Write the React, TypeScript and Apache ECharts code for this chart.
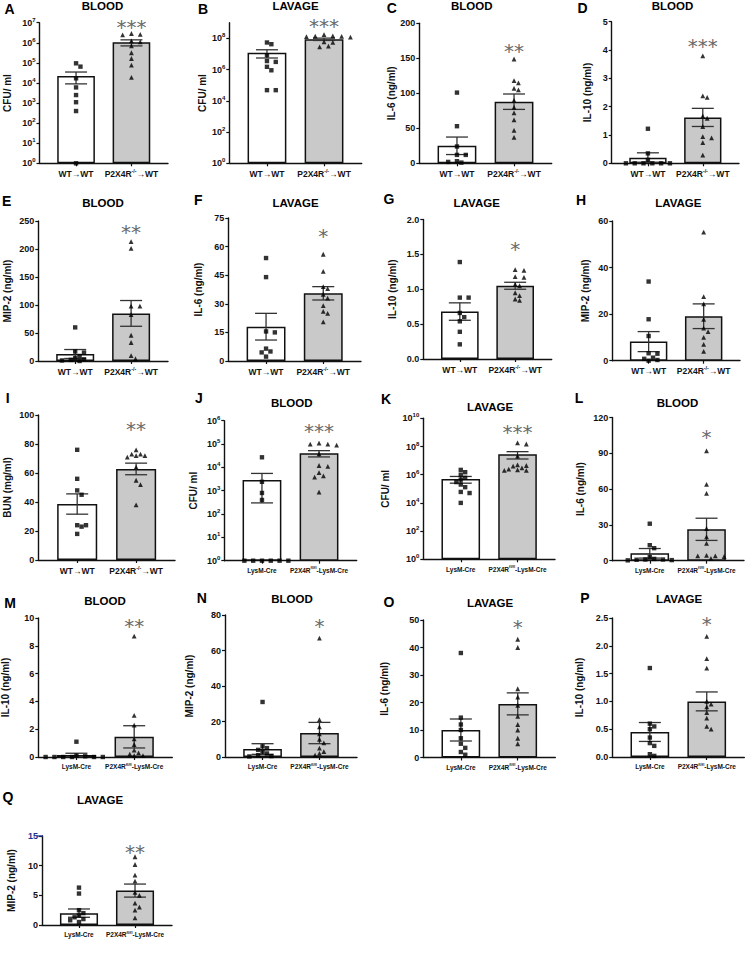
import React, { useEffect, useRef } from "react";
import * as echarts from "echarts";

const FONT = "Liberation Sans, Arial, Helvetica, sans-serif";

// ---------- categories ----------
const CAT_CHIMERA = ["WT→WT", "P2X4R-/-→WT"];
const CAT_LYSM = ["LysM-Cre", "P2X4Rfl/fl-LysM-Cre"];

// ---------- data ----------
// A  BLOOD CFU/ml (log)
const A_ctrl = [9.5e4, 6.5e4, 1.7e4, 6e3, 2.5e3, 1.1e3, 4e2, 1];
const A_ko = [2.9e6, 2.6e6, 2.5e6, 1.25e6, 1.1e6, 7e5, 3.2e5, 1.65e5, 7.8e4, 1.9e4];
const A_mean = [2.2e4, 1.05e6];
const A_sem = [1.3e4, 3.5e5];
// B  LAVAGE CFU/ml (log)
const B_ctrl = [5.4e7, 4.2e7, 8.3e6, 3.5e6, 3.1e6, 1.5e6, 9e5, 4.8e4, 4.8e4];
const B_ko = [1.7e8, 1.45e8, 1.4e8, 1.35e8, 1.3e8, 1.2e8, 6e7, 5.5e7, 3.2e7, 2.8e7];
const B_mean = [1.2e7, 8.8e7];
const B_sem = [6.5e6, 1.5e7];
// C  BLOOD IL-6
const C_ctrl = [101, 53, 24, 12, 12, 3, 1, 2];
const C_ko = [149, 118, 115, 107, 105, 90, 80, 72, 62, 47, 37];
const C_mean = [25, 88];
const C_sem = [12.5, 11];
// D  BLOOD IL-10
const D_ctrl = [1.22, 0.35, 0.12, 0, 0, 0, 0, 0, 0];
const D_ko = [3.79, 2.38, 2.33, 1.67, 1.59, 1.3, 0.94, 0.9, 0.73, 0.29];
const D_mean = [0.2, 1.62];
const D_sem = [0.17, 0.32];
// E  BLOOD MIP-2
const E_ctrl = [60, 17, 15, 9, 5, 3, 2, 1, 0];
const E_ko = [213, 201, 98, 98, 83, 46, 33, 9.5, 4];
const E_mean = [12.5, 85];
const E_sem = [8, 23];
// F  LAVAGE IL-6
const F_ctrl = [54, 44, 15.5, 15, 6.5, 5, 4.5, 2.3];
const F_ko = [56, 47, 39, 38, 35, 33, 29, 26, 25, 20.5];
const F_mean = [18, 35.5];
const F_sem = [7, 3.5];
// G  LAVAGE IL-10
const G_ctrl = [1.39, 0.88, 0.88, 0.66, 0.6, 0.54, 0.39, 0.21];
const G_ko = [1.28, 1.27, 1.18, 1.17, 1.07, 1.05, 0.95, 0.91, 0.86, 0.84];
const G_mean = [0.68, 1.05];
const G_sem = [0.125, 0.05];
// H  LAVAGE MIP-2
const H_ctrl = [34, 17.8, 10.6, 3.2, 3, 1.3, 0.8, 0.3, 0];
const H_ko = [55.2, 27.5, 24.4, 17.8, 14, 12.5, 10, 7, 4];
const H_mean = [8.2, 19.1];
const H_sem = [4.3, 5.3];
// I  BUN
const I_ctrl = [76, 56, 48, 45, 24, 24, 23, 18];
const I_ko = [76, 73, 73, 72, 72, 71, 64, 55, 52, 38];
const I_mean = [38.6, 62.8];
const I_sem = [7, 4];
// J  BLOOD CFU/ml (log)
const J_ctrl = [2.7e4, 2.4e3, 8e2, 4e2, 1, 1, 1, 1, 1, 1];
const J_ko = [1.1e5, 1e5, 1e5, 9e4, 3.8e4, 1.2e4, 1.1e4, 6e3, 4.3e3, 3.8e3, 8.7e2];
const J_mean = [2.9e3, 4e4];
const J_sem = [2.6e3, 1.2e4];
// K  LAVAGE CFU/ml (log)
const K_ctrl = [2.2e6, 1.5e6, 1e6, 6e5, 4.5e5, 3e5, 2e5, 1.3e5, 6e4, 5e4, 1e4];
const K_ko = [1.8e8, 1.5e8, 2.1e7, 5e6, 4.5e6, 4e6, 3e6, 2.5e6, 2.2e6, 2e6, 2e6];
const K_mean = [5e5, 2.8e7];
const K_sem = [2.5e5, 1.5e7];
// L  BLOOD IL-6
const L_ctrl = [31, 13, 10.5, 3, 1.5, 1, 1, 0.8, 0.5, 0.3];
const L_ko = [92, 64, 56.5, 27, 20, 14.5, 4.5, 4, 4, 3.5, 2];
const L_mean = [6.2, 26.3];
const L_sem = [4, 9.3];
// M  BLOOD IL-10
const M_ctrl = [1.1, 0.1, 0.05, 0, 0, 0, 0, 0, 0];
const M_ko = [8.7, 3.0, 2.3, 1.3, 0.9, 0.5, 0.3, 0.2, 0.1, 0.1];
const M_mean = [0.15, 1.45];
const M_sem = [0.12, 0.8];
// N  BLOOD MIP-2
const N_ctrl = [31, 6, 5, 4, 3, 2, 1, 0.5, 0.3];
const N_ko = [67, 21, 17, 13, 10, 8, 5, 3, 2, 1];
const N_mean = [4.5, 13.5];
const N_sem = [3, 6];
// O  LAVAGE IL-6
const O_ctrl = [38, 14.5, 12, 10, 7, 5, 3.5, 2, 1];
const O_ko = [43, 40, 25, 22, 19, 15, 12, 10, 7, 5];
const O_mean = [10, 19.5];
const O_sem = [4, 4];
// P  LAVAGE IL-10
const P_ctrl = [1.6, 0.6, 0.55, 0.5, 0.35, 0.25, 0.2, 0.05, 0.02];
const P_ko = [2.17, 1.77, 1.6, 1.0, 0.95, 0.9, 0.8, 0.7, 0.55, 0.5];
const P_mean = [0.45, 1.0];
const P_sem = [0.17, 0.17];
// Q  LAVAGE MIP-2
const Q_ctrl = [6.3, 5.3, 2.5, 2.0, 1.6, 1.3, 1.0, 0.8, 0.5];
const Q_ko = [11.5, 10.2, 8.4, 7.4, 5.5, 5, 3.7, 2.5, 1.2, 3.0];
const Q_mean = [2.0, 5.8];
const Q_sem = [0.7, 1.1];

// ---------- axis ranges ----------
type Axis = { log: boolean; base?: number; min: number; max: number; interval?: number; dec?: number; hideMax?: boolean; blueMax?: boolean };
const AX_A: Axis = { log: true, base: 10, min: 1, max: 1e7 };
const AX_B: Axis = { log: true, base: 100, min: 1, max: 1e9, hideMax: true };
const AX_C: Axis = { log: false, min: 0, max: 200, interval: 50 };
const AX_D: Axis = { log: false, min: 0, max: 5, interval: 1 };
const AX_E: Axis = { log: false, min: 0, max: 250, interval: 50 };
const AX_F: Axis = { log: false, min: 0, max: 75, interval: 15 };
const AX_G: Axis = { log: false, min: 0, max: 2, interval: 0.5, dec: 1 };
const AX_H: Axis = { log: false, min: 0, max: 60, interval: 20 };
const AX_I: Axis = { log: false, min: 0, max: 100, interval: 20 };
const AX_J: Axis = { log: true, base: 10, min: 1, max: 1e6 };
const AX_K: Axis = { log: true, base: 100, min: 1, max: 1e10 };
const AX_L: Axis = { log: false, min: 0, max: 120, interval: 30 };
const AX_M: Axis = { log: false, min: 0, max: 10, interval: 2 };
const AX_N: Axis = { log: false, min: 0, max: 80, interval: 20 };
const AX_O: Axis = { log: false, min: 0, max: 50, interval: 10 };
const AX_P: Axis = { log: false, min: 0, max: 2.5, interval: 0.5, dec: 1 };
const AX_Q: Axis = { log: false, min: 0, max: 15, interval: 5, blueMax: true };

interface Panel {
  letter: string; title: string; yName: string; cats: string[];
  ctrl: number[]; ko: number[]; mean: number[]; sem: number[];
  axis: Axis; stars: string;
  L: number; W: number; T: number; H: number; gap: number;
  lx: number; ly: number; tx: number; ty: number; sy: number; catFont: number;
}

const panels: Panel[] = [
  { letter: "A", title: "BLOOD", yName: "CFU/ ml", cats: CAT_CHIMERA, ctrl: A_ctrl, ko: A_ko, mean: A_mean, sem: A_sem, axis: AX_A, stars: "***",
    L: 39.5, W: 128.5, T: 22.7, H: 140.6, gap: 27, lx: 9.5, ly: 9, tx: 102.5, ty: 6, sy: 23, catFont: 8.5 },
  { letter: "B", title: "LAVAGE", yName: "CFU/ ml", cats: CAT_CHIMERA, ctrl: B_ctrl, ko: B_ko, mean: B_mean, sem: B_sem, axis: AX_B, stars: "***",
    L: 229.3, W: 132.4, T: 22.7, H: 140.6, gap: 22, lx: 203, ly: 9, tx: 295.5, ty: 6, sy: 22, catFont: 8.5 },
  { letter: "C", title: "BLOOD", yName: "IL-6 (ng/ml)", cats: CAT_CHIMERA, ctrl: C_ctrl, ko: C_ko, mean: C_mean, sem: C_sem, axis: AX_C, stars: "**",
    L: 419.3, W: 132.4, T: 23.3, H: 140, gap: 20.5, lx: 391.7, ly: 8, tx: 471.7, ty: 6, sy: 47, catFont: 8.5 },
  { letter: "D", title: "BLOOD", yName: "IL-10 (ng/ml)", cats: CAT_CHIMERA, ctrl: D_ctrl, ko: D_ko, mean: D_mean, sem: D_sem, axis: AX_D, stars: "***",
    L: 611.7, W: 127.3, T: 21.7, H: 141.6, gap: 19.5, lx: 582.5, ly: 8, tx: 672.5, ty: 6, sy: 42, catFont: 8.5 },
  { letter: "E", title: "BLOOD", yName: "MIP-2 (ng/ml)", cats: CAT_CHIMERA, ctrl: E_ctrl, ko: E_ko, mean: E_mean, sem: E_sem, axis: AX_E, stars: "**",
    L: 38.3, W: 129.7, T: 221, H: 140, gap: 26, lx: 6.7, ly: 200.8, tx: 103, ty: 202.5, sy: 228, catFont: 8.5 },
  { letter: "F", title: "LAVAGE", yName: "IL-6 (ng/ml)", cats: CAT_CHIMERA, ctrl: F_ctrl, ko: F_ko, mean: F_mean, sem: F_sem, axis: AX_F, stars: "*",
    L: 228.3, W: 132.7, T: 218, H: 143, gap: 24.5, lx: 198.3, ly: 200, tx: 295.5, ty: 202.5, sy: 232, catFont: 8.5 },
  { letter: "G", title: "LAVAGE", yName: "IL-10 (ng/ml)", cats: CAT_CHIMERA, ctrl: G_ctrl, ko: G_ko, mean: G_mean, sem: G_sem, axis: AX_G, stars: "*",
    L: 423.3, W: 128.4, T: 219.5, H: 139.5, gap: 26, lx: 389, ly: 199, tx: 476.7, ty: 202.5, sy: 245, catFont: 8.5 },
  { letter: "H", title: "LAVAGE", yName: "MIP-2 (ng/ml)", cats: CAT_CHIMERA, ctrl: H_ctrl, ko: H_ko, mean: H_mean, sem: H_sem, axis: AX_H, stars: "",
    L: 612.3, W: 127.7, T: 221, H: 139.7, gap: 22, lx: 581, ly: 200, tx: 678.3, ty: 202.5, sy: 0, catFont: 8.5 },
  { letter: "I", title: "", yName: "BUN (mg/ml)", cats: CAT_CHIMERA, ctrl: I_ctrl, ko: I_ko, mean: I_mean, sem: I_sem, axis: AX_I, stars: "**",
    L: 38.3, W: 136.7, T: 415, H: 145, gap: 26, lx: 7.7, ly: 397.5, tx: 0, ty: 0, sy: 425, catFont: 8.5 },
  { letter: "J", title: "BLOOD", yName: "CFU/ ml", cats: CAT_LYSM, ctrl: J_ctrl, ko: J_ko, mean: J_mean, sem: J_sem, axis: AX_J, stars: "***",
    L: 224.3, W: 132.4, T: 420.7, H: 140, gap: 25.5, lx: 199, ly: 397.5, tx: 291.7, ty: 402.7, sy: 427, catFont: 6.5 },
  { letter: "K", title: "LAVAGE", yName: "CFU/ ml", cats: CAT_LYSM, ctrl: K_ctrl, ko: K_ko, mean: K_mean, sem: K_sem, axis: AX_K, stars: "***",
    L: 423.3, W: 131.7, T: 418.3, H: 141, gap: 32.8, lx: 386, ly: 399, tx: 490, ty: 406.7, sy: 428.3, catFont: 6.5 },
  { letter: "L", title: "BLOOD", yName: "IL-6 (ng/ml)", cats: CAT_LYSM, ctrl: L_ctrl, ko: L_ko, mean: L_mean, sem: L_sem, axis: AX_L, stars: "*",
    L: 612.3, W: 131.7, T: 417.5, H: 143.2, gap: 26.8, lx: 579, ly: 397.5, tx: 677.5, ty: 402.7, sy: 433.3, catFont: 6.5 },
  { letter: "M", title: "BLOOD", yName: "IL-10 (ng/ml)", cats: CAT_LYSM, ctrl: M_ctrl, ko: M_ko, mean: M_mean, sem: M_sem, axis: AX_M, stars: "**",
    L: 38.3, W: 134, T: 618, H: 139, gap: 28, lx: 10, ly: 603, tx: 105, ty: 601, sy: 621.7, catFont: 6.5 },
  { letter: "N", title: "BLOOD", yName: "MIP-2 (ng/ml)", cats: CAT_LYSM, ctrl: N_ctrl, ko: N_ko, mean: N_mean, sem: N_sem, axis: AX_N, stars: "*",
    L: 225, W: 132, T: 615, H: 142, gap: 30.5, lx: 201.7, ly: 598.3, tx: 292, ty: 599, sy: 621.7, catFont: 6.5 },
  { letter: "O", title: "LAVAGE", yName: "IL-6 (ng/ml)", cats: CAT_LYSM, ctrl: O_ctrl, ko: O_ko, mean: O_mean, sem: O_sem, axis: AX_O, stars: "*",
    L: 423.3, W: 132, T: 620, H: 137.5, gap: 34, lx: 389, ly: 601.7, tx: 490, ty: 603, sy: 623.3, catFont: 6.5 },
  { letter: "P", title: "LAVAGE", yName: "IL-10 (ng/ml)", cats: CAT_LYSM, ctrl: P_ctrl, ko: P_ko, mean: P_mean, sem: P_sem, axis: AX_P, stars: "*",
    L: 612.3, W: 132, T: 618, H: 139, gap: 28, lx: 585, ly: 598.3, tx: 679, ty: 599, sy: 620, catFont: 6.5 },
  { letter: "Q", title: "LAVAGE", yName: "MIP-2 (ng/ml)", cats: CAT_LYSM, ctrl: Q_ctrl, ko: Q_ko, mean: Q_mean, sem: Q_sem, axis: AX_Q, stars: "**",
    L: 42, W: 130, T: 836, H: 89, gap: 26, lx: 8, ly: 797, tx: 100, ty: 800, sy: 848, catFont: 6.5 },
];

const XMIN = -0.66;
const XMAX = 1.66;
const INK = "#111";
const BLUE = "#1d2f8f";

function catLabel(s: string): string {
  const m = s.match(/^P2X4R(-\/-|fl\/fl)(.*)$/);
  if (m) return `{n|P2X4R}{s|${m[1]}}{n|${m[2]}}`;
  return `{n|${s}}`;
}

function normFor(ax: Axis) {
  return (v: number) => {
    if (ax.log) {
      const lv = Math.log10(Math.max(v, ax.min));
      return (lv - Math.log10(ax.min)) / (Math.log10(ax.max) - Math.log10(ax.min));
    }
    return (v - ax.min) / (ax.max - ax.min);
  };
}

// simple beeswarm: spread points that would overlap
function swarm(values: number[], center: number, p: Panel): number[][] {
  const norm = normFor(p.axis);
  const unitPx = p.W / (XMAX - XMIN);
  const placed: { x: number; y: number }[] = [];
  const step = 4.4;
  const minD = 4.6;
  return values.map((v) => {
    const y = norm(v) * p.H;
    let off = 0;
    for (let i = 0; i < 40; i++) {
      const cand = i === 0 ? 0 : (i % 2 ? 1 : -1) * Math.ceil(i / 2) * step;
      if (placed.every((q) => Math.hypot(q.x - cand, q.y - y) >= minD)) { off = cand; break; }
    }
    placed.push({ x: off, y });
    return [center + off / unitPx, v];
  });
}

function buildOption() {
  const grid: any[] = [];
  const xAxis: any[] = [];
  const yAxis: any[] = [];
  const series: any[] = [];
  const graphic: any[] = [];

  panels.forEach((p, i) => {
    grid.push({ left: p.L, top: p.T, width: p.W, height: p.H, containLabel: false, outerBoundsMode: "none" });
    const fs = p.catFont;
    xAxis.push({
      gridIndex: i, type: "value", min: XMIN, max: XMAX,
      axisLine: { show: true, onZero: false, lineStyle: { color: INK, width: 1.4 } },
      axisTick: { show: true, length: 3, customValues: [0, 1], lineStyle: { color: INK, width: 1.2 } },
      axisLabel: {
        show: true, customValues: [0, 1], margin: 5,
        formatter: (v: number) => catLabel(p.cats[Math.round(v)] || ""),
        rich: {
          n: { fontSize: fs, fontWeight: "bold", fontFamily: FONT, color: INK, lineHeight: fs + 3 },
          s: { fontSize: fs * 0.62, fontWeight: "bold", fontFamily: FONT, color: INK, verticalAlign: "top", lineHeight: fs * 0.62 + 1 },
        },
      },
      splitLine: { show: false },
    });
    const ax = p.axis;
    const yLabel: any = {
      margin: 4, fontSize: 9, fontWeight: "bold", fontFamily: FONT,
      color: ax.blueMax ? ((v: any) => (Number(v) === ax.max ? BLUE : INK)) : INK,
      showMaxLabel: ax.hideMax ? false : true,
    };
    if (ax.log) {
      yLabel.formatter = (v: number) => `{b|10}{e|${Math.round(Math.log10(v))}}`;
      yLabel.rich = {
        b: { fontSize: 9, fontWeight: "bold", fontFamily: FONT, color: INK, lineHeight: 12 },
        e: { fontSize: 6, fontWeight: "bold", fontFamily: FONT, color: INK, verticalAlign: "top", lineHeight: 7 },
      };
    } else {
      yLabel.formatter = (v: number) => (ax.dec ? v.toFixed(ax.dec) : String(Math.round(v)));
    }
    yAxis.push({
      gridIndex: i, type: ax.log ? "log" : "value",
      logBase: ax.base, min: ax.min, max: ax.max, interval: ax.interval,
      axisLine: { show: true, onZero: false, lineStyle: { color: INK, width: 1.4 } },
      axisTick: { show: true, length: 3, lineStyle: { color: INK, width: 1.2 } },
      axisLabel: yLabel,
      splitLine: { show: false },
      name: p.yName, nameLocation: "middle", nameGap: p.gap,
      nameTextStyle: { fontSize: 10, fontWeight: "bold", fontFamily: FONT, color: INK },
    });

    const unitPx = p.W / (XMAX - XMIN);
    const barW = 0.68 * unitPx;
    const capHalf = 11;
    series.push({
      type: "bar", xAxisIndex: i, yAxisIndex: i, barWidth: barW, z: 2,
      data: p.mean.map((m, k) => ({
        value: [k, m],
        itemStyle: { color: k === 0 ? "#ffffff" : "#c9c9c9", borderColor: INK, borderWidth: 1.5 },
      })),
    });
    series.push({
      type: "custom", xAxisIndex: i, yAxisIndex: i, z: 3, clip: false,
      data: p.mean.map((m, k) => [k, m, p.sem[k]]),
      renderItem: (_params: any, api: any) => {
        const x = api.value(0);
        const m = api.value(1);
        const s = api.value(2);
        const lowV = Math.max(m - s, ax.min);
        const hi = api.coord([x, m + s]);
        const lo = api.coord([x, lowV]);
        const st = { stroke: "#333", lineWidth: 1.3 };
        return {
          type: "group",
          children: [
            { type: "line", shape: { x1: hi[0], y1: hi[1], x2: lo[0], y2: lo[1] }, style: st },
            { type: "line", shape: { x1: hi[0] - capHalf, y1: hi[1], x2: hi[0] + capHalf, y2: hi[1] }, style: st },
            { type: "line", shape: { x1: lo[0] - capHalf, y1: lo[1], x2: lo[0] + capHalf, y2: lo[1] }, style: st },
          ],
        };
      },
    });
    const yOf = (v: number) => (ax.log ? Math.max(v, ax.min) : v);
    series.push({
      type: "scatter", xAxisIndex: i, yAxisIndex: i, z: 4, clip: false,
      symbol: "rect", symbolSize: 4.4, itemStyle: { color: "#000" },
      data: swarm(p.ctrl.map(yOf), 0, p),
    });
    series.push({
      type: "scatter", xAxisIndex: i, yAxisIndex: i, z: 4, clip: false,
      symbol: "triangle", symbolSize: 4.8, itemStyle: { color: "#000" },
      data: swarm(p.ko.map(yOf), 1, p),
    });

    // panel letter, title, significance stars
    graphic.push({
      type: "text", x: p.lx, y: p.ly,
      style: { text: p.letter, fill: "#000", font: `bold 14px ${FONT}`, align: "center", verticalAlign: "middle", textAlign: "center", textVerticalAlign: "middle" },
    });
    if (p.title) {
      graphic.push({
        type: "text", x: p.tx, y: p.ty,
        style: { text: p.title, fill: "#000", font: `bold 11.5px ${FONT}`, align: "center", verticalAlign: "middle", textAlign: "center", textVerticalAlign: "middle" },
      });
    }
    if (p.stars) {
      const cx = p.L + (1 - XMIN) * unitPx;
      graphic.push({
        type: "text", x: cx, y: p.sy + 4,
        style: { text: p.stars, fill: "#6a6a6a", font: `20px DejaVu Sans`, align: "center", verticalAlign: "middle", textAlign: "center", textVerticalAlign: "middle" },
      });
    }
    if (ax.blueMax) {
      graphic.push({
        type: "line", z: 10,
        shape: { x1: p.L - 5, y1: p.T, x2: p.L + 1, y2: p.T },
        style: { stroke: BLUE, lineWidth: 1.3 },
      });
    }
  });

  return { animation: false, backgroundColor: "#ffffff", grid, xAxis, yAxis, series, graphic };
}

export default function App() {
  const ref = useRef<HTMLDivElement>(null);
  useEffect(() => {
    if (!ref.current) return;
    const chart = echarts.init(ref.current, null, { renderer: "svg" });
    chart.setOption(buildOption() as any);
    return () => chart.dispose();
  }, []);
  return (
    <div
      ref={ref}
      style={{ position: "absolute", left: 0, top: 0, width: 746, height: 969, background: "#fff" }}
    />
  );
}
